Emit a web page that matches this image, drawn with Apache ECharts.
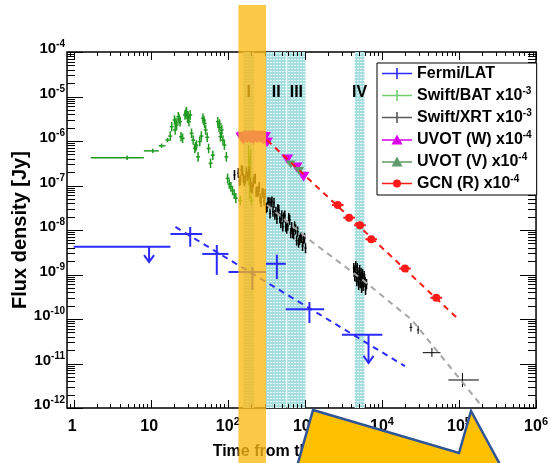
<!DOCTYPE html>
<html>
<head>
<meta charset="utf-8">
<script src="https://cdn.jsdelivr.net/npm/echarts@6/dist/echarts.min.js"></script>
<style>
  html, body { margin: 0; padding: 0; background: #fff; }
  #chart { width: 551px; height: 463px; }
</style>
</head>
<body>
<div id="chart"></div>
<script>
const FONT = '"Liberation Sans", Arial, Helvetica, sans-serif';

// ---- series names and flux scale factors shown in the legend ----
const seriesNames = ['Fermi/LAT', 'Swift/BAT', 'Swift/XRT', 'UVOT (W)', 'UVOT (V)', 'GCN (R)'];
const fluxScale   = ['', '-3', '-3', '-4', '-4', '-4'];

// ---- time intervals (s) ----
const promptInterval = [137, 313];                 // interval I (highlighted)
const intervals = [                                 // [start, end, label]
  [159, 220, 'I'],
  [313, 573, 'II'],
  [590, 1019, 'III'],
  [4440, 5950, 'IV']
];

// ---- Fermi/LAT: [t, tLo, tHi, flux, fluxLo, fluxHi] ----
const latPoints = [
  [32.5, 18.0, 46.5, 8.1e-9, 4.2e-9, 1.17e-8],
  [71.9, 46.5, 102, 2.9e-9, 9.8e-10, 4.6e-9],
  [208, 102, 313, 1.14e-9, 4.5e-10, 1.47e-9],
  [433, 313, 565, 1.74e-9, 7.9e-10, 2.8e-9],
  [1145, 565, 1782, 1.66e-10, 8.1e-11, 2.4e-10]
];
// Fermi/LAT upper limits: [tArrow, tLo, tHi, flux, arrowTip]
const latLimits = [
  [9.5, 1.0, 18.0, 4.2e-9, 1.9e-9],
  [6700, 3027, 10120, 4.4e-11, 1.03e-11]
];
const latFit = [[20.9, 1.17e-8], [19900, 8.7e-12]];

// ---- Swift/BAT (x1e-3) ----
const batWideBins = [          // [t, tLo, tHi, flux]
  [4.93, 1.66, 8.13, 4.2e-7],
  [10.6, 8.13, 12.7, 6.0e-7],
  [13.8, 12.7, 15.5, 7.8e-7],
  [16.5, 15.5, 17.5, 1.05e-6]
];
const batPoints = [            // [t, flux]
  [17.9, 1.29e-6], [18.7, 2.10e-6], [20.3, 2.96e-6], [20.7, 1.77e-6], [21.2, 2.6e-6],
  [21.7, 2.29e-6], [22.8, 3.52e-6], [23.3, 3.1e-6], [24.0, 2.72e-6], [24.7, 1.25e-6],
  [25.9, 1.15e-6], [27.8, 3.84e-6], [28.5, 4.2e-6], [29.1, 4.56e-6], [30.0, 3.23e-6],
  [30.6, 3.6e-6], [31.3, 2.72e-6], [32.5, 3.84e-6], [33.8, 1.49e-6], [35.5, 1.05e-6],
  [37.3, 6.8e-7], [38.2, 7.4e-7], [39.1, 8.1e-7], [41.1, 4.4e-7], [43.2, 9.7e-7],
  [45.3, 1.29e-6], [47.6, 3.23e-6], [48.8, 2.9e-6], [50.0, 2.49e-6], [51.5, 1.77e-6],
  [54.0, 1.21e-6], [56.3, 6.8e-7], [59.7, 3.15e-7], [63.9, 4.8e-7], [74.1, 2.72e-6],
  [76.9, 2.03e-6], [78.5, 2.4e-6], [80.2, 1.25e-6], [81.8, 1.5e-6], [83.4, 1.77e-6],
  [86.5, 1.05e-6], [90.2, 8.1e-7], [95.7, 4.4e-7], [99.4, 1.45e-7], [104.5, 1.08e-7],
  [109.6, 9.4e-8], [115, 7.7e-8], [121, 6.4e-8], [127, 5.2e-8], [145, 4.6e-8],
  [203, 4.6e-8]
];
const batSpikes = [            // [t, flux, fluxLo, fluxHi]
  [186, 3.5e-7, 1.0e-7, 8.0e-7],
  [192, 1.6e-7, 5.0e-8, 4.5e-7],
  [197, 2.5e-7, 7.0e-8, 6.5e-7]
];

// ---- Swift/XRT (x1e-3) ----
const xrtPoints = [            // [t, flux]
  [122, 1.72e-7], [137, 1.91e-7], [142, 1.26e-7], [146, 1.33e-7], [150, 2.23e-7],
  [155, 2.12e-7], [159, 1.48e-7], [164, 1.26e-7], [169, 1.40e-7], [174, 2.01e-7],
  [179, 1.63e-7], [185, 1.79e-7], [190, 2.04e-7], [196, 1.14e-7], [201, 9.1e-8],
  [208, 8.5e-8], [214, 1.20e-7], [220, 1.38e-7], [227, 1.42e-7], [233, 7.1e-8],
  [240, 7.4e-8], [248, 7.3e-8], [255, 9.2e-8], [263, 5.15e-8], [270, 4.3e-8],
  [279, 6.8e-8], [287, 6.7e-8], [296, 4.5e-8], [304, 6.4e-8], [313, 3.1e-8],
  [323, 3.25e-8], [332, 4.2e-8], [343, 4.2e-8], [353, 2.35e-8], [363, 4.15e-8],
  [374, 4.35e-8], [385, 2.58e-8], [397, 4.08e-8], [408, 2.2e-8], [421, 2.55e-8],
  [433, 1.77e-8], [446, 2.96e-8], [459, 2.8e-8], [473, 1.84e-8], [488, 1.42e-8],
  [502, 2.13e-8], [517, 1.2e-8], [532, 1.91e-8], [549, 2.11e-8], [565, 1.19e-8],
  [582, 1.07e-8], [600, 1.24e-8], [617, 1.87e-8], [635, 1.69e-8], [655, 8.5e-9],
  [674, 1.16e-8], [695, 8.5e-9], [715, 8.0e-9], [736, 1.2e-8], [759, 1.03e-8],
  [781, 5.8e-9], [805, 9.2e-9], [828, 5.2e-9], [853, 6.0e-9], [879, 6.7e-9],
  [906, 6.7e-9], [933, 4.4e-9], [960, 6.25e-9], [989, 6.6e-9], [1019, 3.9e-9],
  [4310, 1.40e-9], [4370, 1.14e-9], [4440, 9.2e-10], [4500, 1.26e-9], [4570, 1.55e-9],
  [4640, 8.8e-10], [4710, 7.1e-10], [4780, 1.40e-9], [4845, 1.14e-9], [4920, 7.9e-10],
  [4990, 5.8e-10], [5070, 9.75e-10], [5140, 1.26e-9], [5220, 6.45e-10], [5290, 8.3e-10],
  [5370, 1.08e-9], [5450, 5.0e-10], [5530, 7.5e-10], [5610, 1.03e-9], [5700, 5.5e-10],
  [5780, 6.4e-10], [5870, 9.25e-10], [5950, 7.9e-10], [6040, 6.8e-10], [6130, 4.5e-10],
  [6310, 6.1e-10]
];
const xrtLate = [              // [t, tLo, tHi, flux, fluxLo, fluxHi]
  [23800, 22800, 24800, 6.5e-11, 5.2e-11, 8.1e-11],
  [29500, 28500, 30500, 5.7e-11, 4.6e-11, 7.0e-11],
  [44500, 33800, 57500, 1.75e-11, 1.4e-11, 2.23e-11],
  [111000, 72800, 181000, 4.26e-12, 2.96e-12, 6.1e-12]
];
const xrtModel = [[323, 3.65e-8], [1145, 6.0e-9], [5450, 7.9e-10], [24500, 9.5e-11], [198000, 1.1e-12]];

// ---- optical (x1e-4) ----
const uvotW = [
  [150, 1.23e-6], [155, 1.30e-6], [159, 1.11e-6], [164, 1.20e-6], [169, 1.29e-6],
  [174, 1.25e-6], [179, 1.17e-6], [185, 1.33e-6], [190, 1.36e-6], [195, 1.18e-6],
  [201, 1.23e-6], [207, 1.32e-6], [214, 1.11e-6], [220, 1.22e-6], [227, 1.29e-6],
  [233, 1.35e-6], [240, 1.17e-6], [247, 1.25e-6], [255, 1.36e-6], [262, 1.20e-6],
  [270, 1.23e-6], [278, 1.30e-6], [287, 1.11e-6], [295, 1.26e-6], [304, 1.29e-6],
  [323, 9.6e-7], [590, 4.0e-7], [781, 2.64e-7], [960, 1.63e-7]
];
const uvotV = [[655, 3.04e-7], [841, 2.17e-7]];
const gcnR = [[2670, 3.65e-8], [3750, 1.89e-8], [5190, 1.28e-8], [7260, 6.2e-9], [19900, 1.36e-9], [50700, 3.0e-10]];
const gcnFit = [[323, 1.05e-6], [94800, 1.05e-10]];

// ---- axis decades ----
const xDecades = [1, 10, 1e2, 1e3, 1e4, 1e5, 1e6];
const yDecades = [1e-12, 1e-11, 1e-10, 1e-9, 1e-8, 1e-7, 1e-6, 1e-5, 1e-4];

// ---- styling ----
const C = {
  lat: '#2b2bff', bat: '#1f9a1f', batKey: '#6fcf6f', xrt: '#000000', xrtKey: '#5a5a5a',
  uvotW: '#dd00ee', uvotV: '#5f9a6a', gcn: '#ff1a1a', model: '#a6a6a6'
};

// rows as [t, flux, tLo, tHi, fluxLo, fluxHi] using typical multiplicative half-widths
function withErrors(rows, ex, ey) {
  return rows.map(r => [r[0], r[1], r[0] / ex, r[0] * ex, r[1] / ey, r[1] * ey]);
}
// [t, tLo, tHi, flux, fluxLo, fluxHi] -> [t, flux, tLo, tHi, fluxLo, fluxHi]
function reorder(rows) {
  return rows.map(r => [r[0], r[3], r[1], r[2], r[4], r[5]]);
}

function errorSeries(name, color, rows, opt) {
  return {
    type: 'custom', name, silent: true, z: opt.z || 5,
    itemStyle: { color },
    data: rows,
    encode: { x: 0, y: 1 },
    renderItem(params, api) {
      const t = api.value(0), f = api.value(1);
      const c = api.coord([t, f]);
      const xl = api.coord([api.value(2), f])[0];
      const xr = api.coord([api.value(3), f])[0];
      const yb = api.coord([t, api.value(4)])[1];
      const yt = api.coord([t, api.value(5)])[1];
      const st = { stroke: color, lineWidth: opt.lw || 1 };
      const ch = [
        { type: 'line', shape: { x1: xl, y1: c[1], x2: xr, y2: c[1] }, style: st },
        { type: 'line', shape: { x1: c[0], y1: yb, x2: c[0], y2: yt }, style: st }
      ];
      if (opt.marker === 'circle') {
        ch.push({ type: 'circle', shape: { cx: c[0], cy: c[1], r: opt.size }, style: { fill: color } });
      } else if (opt.marker === 'triangle') {
        const s = opt.size;
        ch.push({ type: 'polygon', shape: { points: [[c[0] - s, c[1] - s * 0.7], [c[0] + s, c[1] - s * 0.7], [c[0], c[1] + s * 0.9]] }, style: { fill: color } });
      }
      return { type: 'group', children: ch };
    }
  };
}

function limitSeries(name, color, rows) {
  return {
    type: 'custom', name, silent: true, z: 5,
    itemStyle: { color },
    data: rows.map(r => [r[0], r[3], r[1], r[2], r[4]]),
    encode: { x: 0, y: 1 },
    renderItem(params, api) {
      const t = api.value(0), f = api.value(1);
      const c = api.coord([t, f]);
      const xl = api.coord([api.value(2), f])[0];
      const xr = api.coord([api.value(3), f])[0];
      const tip = api.coord([t, api.value(4)])[1];
      const st = { stroke: color, lineWidth: 2 };
      return { type: 'group', children: [
        { type: 'line', shape: { x1: xl, y1: c[1], x2: xr, y2: c[1] }, style: st },
        { type: 'line', shape: { x1: c[0], y1: c[1], x2: c[0], y2: tip }, style: st },
        { type: 'polyline', shape: { points: [[c[0] - 5, tip - 7], [c[0], tip], [c[0] + 5, tip - 7]] }, style: { stroke: color, lineWidth: 2, fill: null } }
      ] };
    }
  };
}

function dashedLine(name, color, pts) {
  return {
    type: 'line', name, data: pts, z: 7, silent: true,
    showSymbol: false, symbol: 'none',
    lineStyle: { color, width: 2, type: [6, 5] }
  };
}

// frame ticks drawn on all four sides (log minor ticks at 2..9)
function tickValues(decades) {
  const out = [];
  decades.forEach((d, i) => {
    out.push([d, 1]);
    if (i < decades.length - 1) for (let k = 2; k <= 9; k++) out.push([d * k, 0]);
  });
  return out;
}
function tickSeries(axis, decades, lenMajor, lenMinor) {
  const vals = tickValues(decades);
  if (axis === 'x') vals.push([0.9, 0]);
  return {
    type: 'custom', silent: true, z: 8,
    data: vals.map(([v, m]) => axis === 'x' ? [v, 1e-8, m] : [1, v, m]),
    encode: { x: 0, y: 1 },
    renderItem(params, api) {
      const cs = params.coordSys;
      const p = api.coord([api.value(0), api.value(1)]);
      const len = api.value(2) === 1 ? lenMajor : lenMinor;
      const st = { stroke: '#000', lineWidth: 1 };
      if (axis === 'x') {
        const x = Math.round(p[0]) + 0.5, yb = cs.y + cs.height, yt = cs.y;
        return { type: 'group', children: [
          { type: 'line', shape: { x1: x, y1: yb, x2: x, y2: yb - len }, style: st },
          { type: 'line', shape: { x1: x, y1: yt, x2: x, y2: yt + len }, style: st }
        ] };
      }
      const y = Math.round(p[1]) + 0.5, xl = cs.x, xr = cs.x + cs.width;
      return { type: 'group', children: [
        { type: 'line', shape: { x1: xl, y1: y, x2: xl + len, y2: y }, style: st },
        { type: 'line', shape: { x1: xr, y1: y, x2: xr - len, y2: y }, style: st }
      ] };
    }
  };
}

// hatched fill for the shaded intervals
const hatch = document.createElement('canvas');
hatch.width = 3; hatch.height = 3;
(function () {
  const g = hatch.getContext('2d');
  g.fillStyle = 'rgb(166,222,224)'; g.fillRect(0, 0, 3, 3);
  g.fillStyle = 'rgb(232,247,247)'; g.fillRect(0, 2, 2, 1);
})();

function isDecade(v) {
  const l = Math.log10(v);
  return Math.abs(l - Math.round(l)) < 1e-6;
}

const icons = {
  cross: 'path://M0,6.2h30v1.6h-30z M14.2,1.5h1.6v11h-1.6z',
  tri: 'path://M0,6.2h30v1.6h-30z M15,1.5L20.5,11.5H9.5Z',
  circ: 'path://M0,6.2h30v1.6h-30z M19,7a4,4 0 1 1 -8,0a4,4 0 1 1 8,0z'
};
const legendColors = [C.lat, C.batKey, C.xrtKey, C.uvotW, C.uvotV, C.gcn];
const legendIcons = [icons.cross, icons.cross, icons.cross, icons.tri, icons.tri, icons.circ];

const option = {
  animation: false,
  backgroundColor: '#fff',
  grid: { left: 67, top: 52, width: 476, height: 356, show: true, borderColor: '#000', borderWidth: 1.5 },
  xAxis: {
    type: 'log', logBase: 10, min: 0.818, max: 1e6, splitNumber: 6,
    axisLine: { show: false }, axisTick: { show: false }, splitLine: { show: false },
    axisLabel: {
      margin: 10,
      formatter: v => {
        if (!isDecade(v)) return '';
        const e = Math.round(Math.log10(v));
        if (e === 0) return '{b|1}{s| }';
        if (e === 1) return '{b|10}{s| }';
        return '{b|10}{s|' + e + '}';
      },
      rich: {
        b: { fontFamily: FONT, fontSize: 16, fontWeight: 'bold', color: '#000', lineHeight: 18 },
        s: { fontFamily: FONT, fontSize: 11, fontWeight: 'bold', color: '#000', lineHeight: 11, padding: [0, 0, 10, 0] }
      }
    }
  },
  yAxis: {
    type: 'log', logBase: 10, min: 1e-12, max: 1e-4, splitNumber: 8,
    axisLine: { show: false }, axisTick: { show: false }, splitLine: { show: false },
    axisLabel: {
      margin: 2,
      padding: [0, 0, 6, 0],
      formatter: v => isDecade(v) ? '{b|10}{s|' + Math.round(Math.log10(v)) + '}' : '',
      rich: {
        b: { fontFamily: FONT, fontSize: 15, fontWeight: 'bold', color: '#000', lineHeight: 17 },
        s: { fontFamily: FONT, fontSize: 10, fontWeight: 'bold', color: '#000', lineHeight: 10, padding: [0, 0, 9, 0] }
      }
    }
  },
  legend: {
    orient: 'vertical', left: 377, top: 63, z: 20,
    itemWidth: 30, itemHeight: 14, itemGap: 3,
    backgroundColor: '#fff', borderColor: '#000', borderWidth: 1, padding: [1, 5, 2, 5],
    selectedMode: false,
    data: seriesNames.map((n, i) => ({ name: n, icon: legendIcons[i], itemStyle: { color: legendColors[i] } })),
    formatter: name => {
      const s = fluxScale[seriesNames.indexOf(name)];
      return s ? '{n|' + name + ' x10}{s|' + s + '}' : '{n|' + name + '}{s| }';
    },
    textStyle: {
      rich: {
        n: { fontFamily: FONT, fontSize: 16, fontWeight: 'bold', color: '#000', lineHeight: 18 },
        s: { fontFamily: FONT, fontSize: 10, fontWeight: 'bold', color: '#000', lineHeight: 10, padding: [0, 0, 9, 0] }
      }
    }
  },
  series: [
    {
      type: 'line', name: 'intervals', data: xrtModel, z: 1, silent: true,
      showSymbol: false, symbol: 'none', lineStyle: { opacity: 0 },
      markArea: {
        silent: true,
        itemStyle: { color: { image: hatch, repeat: 'repeat' }, opacity: 1 },
        label: { show: true, position: 'insideTop', distance: 33, color: '#000', fontSize: 16, fontWeight: 'bold', fontFamily: FONT },
        data: intervals.map(([a, b, n]) => [{ xAxis: a, name: n }, { xAxis: b }])
      }
    },
    errorSeries('Swift/BAT', C.bat, batWideBins.map(r => [r[0], r[3], r[1], r[2], r[3] / 1.12, r[3] * 1.12]), { lw: 1.5 }),
    errorSeries('Swift/BAT', C.bat, withErrors(batPoints, 1.06, 1.28), { lw: 1.5 }),
    errorSeries('Swift/BAT', C.bat, batSpikes.map(r => [r[0], r[1], r[0] / 1.02, r[0] * 1.02, r[2], r[3]]), { lw: 1.5 }),
    errorSeries('Swift/XRT', C.xrt, withErrors(xrtPoints, 1.03, 1.3), { lw: 1.5 }),
    errorSeries('Swift/XRT', C.xrt, reorder(xrtLate), { lw: 1 }),
    errorSeries('UVOT (W)', C.uvotW, withErrors(uvotW, 1.0, 1.12), { marker: 'triangle', size: 6, lw: 1 }),
    errorSeries('UVOT (V)', C.uvotV, withErrors(uvotV, 1.0, 1.12), { marker: 'triangle', size: 5, lw: 1 }),
    errorSeries('GCN (R)', C.gcn, withErrors(gcnR, 1.19, 1.08), { marker: 'circle', size: 4, lw: 2 }),
    errorSeries('Fermi/LAT', C.lat, reorder(latPoints), { lw: 2 }),
    limitSeries('Fermi/LAT', C.lat, latLimits),
    dashedLine('LAT fit', C.lat, latFit),
    dashedLine('XRT model', C.model, xrtModel),
    dashedLine('R fit', C.gcn, gcnFit),
    tickSeries('x', xDecades, 8, 4),
    tickSeries('y', yDecades, 16, 8)
  ]
};

const chart = echarts.init(document.getElementById('chart'), null, { renderer: 'canvas', width: 551, height: 463 });
chart.setOption(option);

// prompt-interval highlight across the full figure height, plus axis titles and the callout
const xa = chart.convertToPixel({ xAxisIndex: 0 }, promptInterval[0]);
const xb = chart.convertToPixel({ xAxisIndex: 0 }, promptInterval[1]);
chart.setOption({
  graphic: [
    {
      type: 'text', z: 10, x: 20, y: 230, rotation: Math.PI / 2,
      style: { text: 'Flux density [Jy]', font: 'bold 20px ' + FONT, fill: '#000', textAlign: 'center', textVerticalAlign: 'middle' }
    },
    {
      type: 'text', z: 10, x: 305, y: 452,
      style: { text: 'Time from the trigger [s]', font: 'bold 16px ' + FONT, fill: '#000', textAlign: 'center', textVerticalAlign: 'middle' }
    },
    {
      type: 'rect', z: 100, shape: { x: xa, y: 5, width: xb - xa, height: 458 },
      style: { fill: 'rgba(250,185,20,0.78)' }
    },
    {
      type: 'polygon', z: 110,
      shape: { points: [[313, 410], [459, 453], [471, 411], [503, 470], [296, 470]] },
      style: { fill: '#FFC000', stroke: '#2F5597', lineWidth: 2.5, lineJoin: 'miter' }
    }
  ]
});
</script>
</body>
</html>
